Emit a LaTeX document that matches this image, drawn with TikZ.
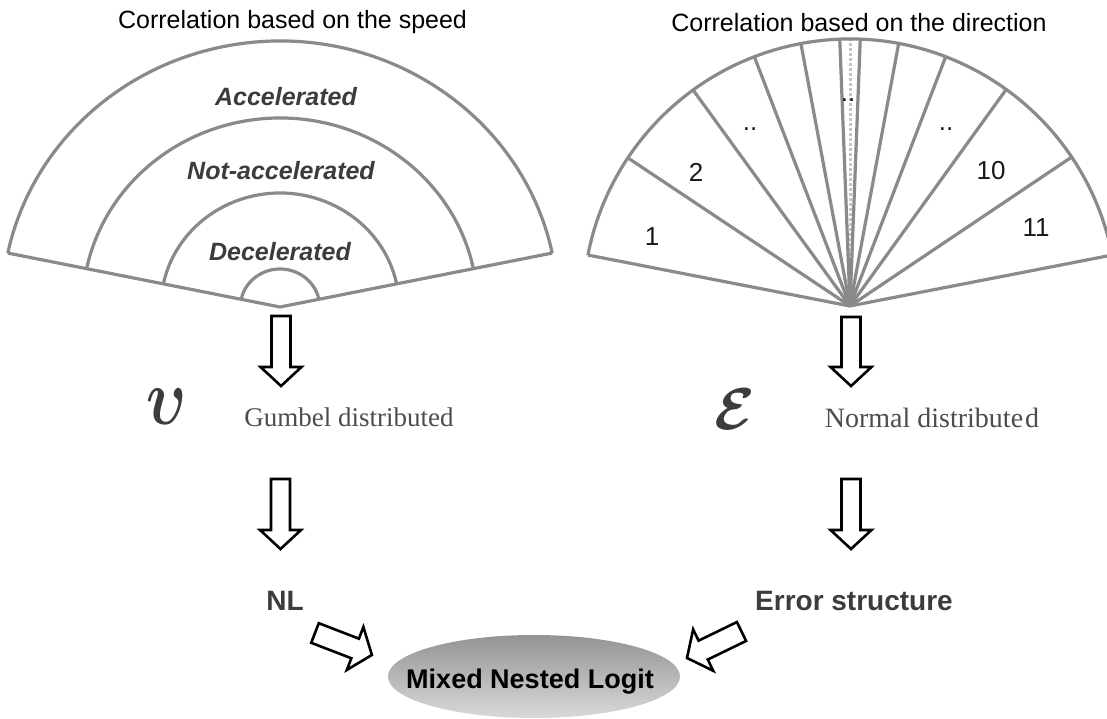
\documentclass[tikz,border=0pt]{standalone}
\usepackage{fontspec}
\usepackage{graphicx}
\usepackage{bm}
\setmainfont{Liberation Sans}
\newfontfamily\serifF{Liberation Serif}
\usetikzlibrary{shapes.geometric}
\definecolor{fang}{HTML}{8A8A8A}
\definecolor{lbl}{HTML}{3C3C3C}
\definecolor{dotg}{HTML}{C4C4C4}
\tikzset{
  fanline/.style={draw=fang, line width=3.2pt, line join=round},
  titletxt/.style={font=\fontsize{25}{30}\selectfont, text=black, anchor=base, inner sep=0pt},
  speedlbl/.style={font=\fontsize{25}{30}\selectfont\bfseries\itshape, text=lbl, inner sep=0pt},
  numlbl/.style={font=\fontsize{26}{30}\selectfont, text=black!90, inner sep=0pt},
  barrow/.style={draw=black, line width=2.6pt, fill=white, line join=miter},
  boldlbl/.style={font=\fontsize{28}{32}\selectfont\bfseries, text=lbl, inner sep=0pt},
  distlbl/.style={font=\serifF\fontsize{27}{32}\selectfont, text=black!70, anchor=base, inner sep=0pt},
  symb/.style={text=lbl, inner sep=0pt},
  mnlshape/.style={ellipse, minimum width=292pt, minimum height=83pt, inner sep=0pt, top color=black!42, bottom color=black!15, draw=none},
  mnltext/.style={font=\fontsize{27}{32}\selectfont\bfseries, text=black, anchor=base, inner sep=0pt},
}
% #1 tail coordinate, #2 angle, #3 length, #4 shaft half width, #5 head half width, #6 head length
\newcommand{\blockarr}[6]{%
  \begin{scope}[shift={#1},rotate=#2]
    \draw[barrow] (0,-#4) -- (#3-#6,-#4) -- (#3-#6,-#5) -- (#3,0) -- (#3-#6,#5) -- (#3-#6,#4) -- (0,#4) -- cycle;
  \end{scope}}
\begin{document}
\begin{tikzpicture}[x=1pt,y=1pt]
\useasboundingbox (0,0) rectangle (1107,719);
\fill[white] (0,0) rectangle (1107,719);

% ---------- left fan (speed) ----------
\coordinate (LA) at (280,412);
\begin{scope}[shift={(LA)},xscale=1.045]
  \draw[fanline] (168.3:266) -- (0,0) -- (11.7:266);
  \draw[fanline] (11.7:266) arc[start angle=11.7, end angle=168.3, radius=266];
  \draw[fanline] (11.7:189) arc[start angle=11.7, end angle=168.3, radius=189];
  \draw[fanline] (11.7:114) arc[start angle=11.7, end angle=168.3, radius=114];
  \draw[fanline] (11.7:38) arc[start angle=11.7, end angle=168.3, radius=38];
\end{scope}
\node[titletxt] (t1) at (292.5,690) {Correlation based on the speed};
\node[speedlbl] (acc) at (286,622) {Accelerated};
\node[speedlbl] (nacc) at (281,548) {Not-accelerated};
\node[speedlbl] (dec) at (280,467) {Decelerated};

% ---------- right fan (direction) ----------
\coordinate (RA) at (850,413);
\begin{scope}[shift={(RA)}]
  \draw[dotg, line width=3pt, dash pattern=on 2.5pt off 2.5pt] (0,0) -- (90:266);
  \foreach \a in {169,146.3,126,111,100.6,92.2,87.8,79.5,69,54.2,33.9,11}
    \draw[fanline] (0,0) -- (\a:267);
  \draw[fanline] (11:267) arc[start angle=11, end angle=169, radius=267];
\end{scope}
\node[titletxt] (t2) at (859,687) {Correlation based on the direction};
\node[numlbl] (n1) at (652,482) {1};
\node[numlbl] (n2) at (696,547) {2};
\node[numlbl] (d1) at (750,590) {..};
\node[numlbl] (d2) at (848,619) {..};
\node[numlbl] (d3) at (946,590) {..};
\node[numlbl] (n10) at (991,548) {10};
\node[numlbl] (n11) at (1036,491) {11};

% ---------- first arrows ----------
\coordinate (a1) at (281,403);
\coordinate (a2) at (851,402);
\blockarr{(a1)}{-90}{70}{9.5}{20.5}{19}
\blockarr{(a2)}{-90}{69}{9.5}{20.5}{19}

% ---------- distributions ----------
\node[symb] (ups) at (167,312) {\scalebox{6.0}[8.0]{$\bm{\upsilon}$}};
\node[distlbl] (gum) at (349,292) {Gumbel distributed};
\node[symb] (eps) at (735,310) {\scalebox{5.9}{$\bm{\mathcal{E}}$}};
\node[distlbl, font=\serifF\fontsize{28}{32}\selectfont] (nor) at (932,291) {Normal distribute\kern2pt d};

% ---------- second arrows ----------
\coordinate (b1) at (280.5,240);
\coordinate (b2) at (851,240);
\blockarr{(b1)}{-90}{70}{9.5}{20.5}{19}
\blockarr{(b2)}{-90}{70}{9.5}{20.5}{19}

\node[boldlbl] (nl) at (285,118) {NL};
\node[boldlbl] (err) at (854,118) {Error structure};

% ---------- final ----------
\node[mnlshape] (mnl) at (534,42.5) {};
\node[mnltext] (mnlt) at (530,30) {Mixed Nested Logit};
\coordinate (c1) at (315,86);
\coordinate (c2) at (741.5,87.5);
\blockarr{(c1)}{-21.1}{61}{10.5}{23}{18}
\blockarr{(c2)}{205.9}{60.6}{10.5}{23}{18}
\end{tikzpicture}
\end{document}
